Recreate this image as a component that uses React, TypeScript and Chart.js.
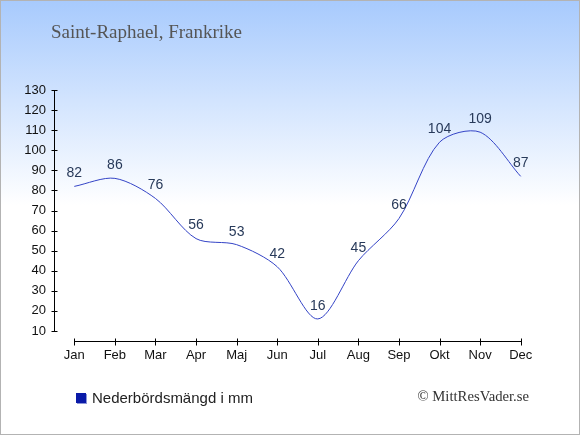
import React, { useEffect, useRef } from "react";
import { Chart, registerables } from "chart.js";

Chart.register(...registerables);

const months = ["Jan", "Feb", "Mar", "Apr", "Maj", "Jun", "Jul", "Aug", "Sep", "Okt", "Nov", "Dec"];
const precipitation = [82, 86, 76, 56, 53, 42, 16, 45, 66, 104, 109, 87];
const yTicks = [10, 20, 30, 40, 50, 60, 70, 80, 90, 100, 110, 120, 130];

const titleText = "Saint-Raphael, Frankrike";
const legendText = "Nederbördsmängd i mm";
const creditText = "© MittResVader.se";

const axesPlugin = {
  id: "customAxes",
  afterDraw(chart: any) {
    const ctx = chart.ctx;
    const xs = chart.scales.x;
    const ys = chart.scales.y;
    const area = chart.chartArea;
    ctx.save();
    ctx.strokeStyle = "#000";
    ctx.lineWidth = 1;
    const ax = Math.round(area.left) + 0.5;
    const yTop = ys.getPixelForValue(yTicks[yTicks.length - 1]);
    const yBot = ys.getPixelForValue(yTicks[0]);
    ctx.beginPath();
    ctx.moveTo(ax, Math.round(yTop));
    ctx.lineTo(ax, Math.round(yBot) + 1);
    yTicks.forEach((v) => {
      const py = Math.round(ys.getPixelForValue(v)) + 0.5;
      ctx.moveTo(ax - 3, py);
      ctx.lineTo(ax + 3, py);
    });
    const ay = Math.round(area.bottom + 10) + 0.5;
    const x0 = Math.round(xs.getPixelForValue(0));
    const x1 = Math.round(xs.getPixelForValue(months.length - 1));
    ctx.moveTo(x0, ay);
    ctx.lineTo(x1 + 1, ay);
    months.forEach((_, i) => {
      const px = Math.round(xs.getPixelForValue(i)) + 0.5;
      ctx.moveTo(px, ay - 3);
      ctx.lineTo(px, ay + 4);
    });
    ctx.stroke();
    ctx.restore();
  },
  afterDatasetsDraw(chart: any) {
    const ctx = chart.ctx;
    const meta = chart.getDatasetMeta(0);
    ctx.save();
    ctx.font = "14px 'Liberation Sans', Arial, sans-serif";
    ctx.fillStyle = "#283a5a";
    ctx.textAlign = "center";
    ctx.textBaseline = "middle";
    meta.data.forEach((pt: any, i: number) => {
      ctx.fillText(String(precipitation[i]), pt.x, pt.y - 13);
    });
    ctx.restore();
  },
};

export default function App() {
  const canvasRef = useRef<HTMLCanvasElement | null>(null);

  useEffect(() => {
    document.body.style.margin = "0";
    const canvas = canvasRef.current;
    if (!canvas) return;
    const chart = new Chart(canvas, {
      type: "line",
      data: {
        labels: months,
        datasets: [
          {
            label: legendText,
            data: precipitation,
            borderColor: "#3343c6",
            borderWidth: 1,
            pointRadius: 0,
            fill: false,
            tension: 0.3,
          },
        ],
      },
      options: {
        responsive: false,
        animation: false,
        layout: { padding: { left: 0, top: 90, right: 39, bottom: 0 } },
        plugins: {
          legend: { display: false },
          title: { display: false },
          tooltip: { enabled: false },
        },
        scales: {
          x: {
            type: "category",
            offset: true,
            grid: { display: false, drawTicks: false },
            border: { display: false },
            ticks: {
              color: "#111",
              font: { family: "'Liberation Sans', Arial, sans-serif", size: 13 },
              padding: 17,
              maxRotation: 0,
              autoSkip: false,
            },
            afterFit(scale: any) {
              scale.height = 104;
            },
          },
          y: {
            min: 10,
            max: 130,
            grid: { display: false, drawTicks: false },
            border: { display: false },
            ticks: {
              stepSize: 10,
              color: "#111",
              font: { family: "'Liberation Sans', Arial, sans-serif", size: 13 },
              padding: 8,
            },
            afterFit(scale: any) {
              scale.width = 54;
            },
          },
        },
      },
      plugins: [axesPlugin],
    });
    return () => chart.destroy();
  }, []);

  return (
    <div
      style={{
        position: "relative",
        width: 580,
        height: 435,
        background: "linear-gradient(to bottom, #a7cafd 0px, #ffffff 205px, #ffffff 435px)",
        overflow: "hidden",
      }}
    >
      <canvas ref={canvasRef} width={580} height={435} style={{ position: "absolute", left: 0, top: 0 }} />
      <div
        style={{
          position: "absolute",
          left: 51,
          top: 20,
          fontFamily: "'Liberation Serif', 'Times New Roman', serif",
          fontSize: 19,
          lineHeight: "24px",
          color: "#555",
          whiteSpace: "nowrap",
        }}
      >
        {titleText}
      </div>
      <div
        style={{
          position: "absolute",
          left: 76,
          top: 389,
          display: "flex",
          alignItems: "center",
          fontFamily: "'Liberation Sans', Arial, sans-serif",
          fontSize: 15,
          lineHeight: "18px",
          color: "#222",
          whiteSpace: "nowrap",
        }}
      >
        <span
          style={{
            display: "inline-block",
            width: 10,
            height: 10,
            background: "#0a1aa8",
            boxShadow: "1px 1px 0 #8d96d8",
            marginRight: 6,
          }}
        />
        <span>{legendText}</span>
      </div>
      <div
        style={{
          position: "absolute",
          right: 51,
          top: 388,
          fontFamily: "'Liberation Serif', 'Times New Roman', serif",
          fontSize: 14.7,
          color: "#333",
          whiteSpace: "nowrap",
        }}
      >
        {creditText}
      </div>
      <div
        style={{
          position: "absolute",
          left: 0,
          top: 0,
          width: 580,
          height: 435,
          boxSizing: "border-box",
          border: "1px solid #b3b3b3",
          pointerEvents: "none",
        }}
      />
    </div>
  );
}
